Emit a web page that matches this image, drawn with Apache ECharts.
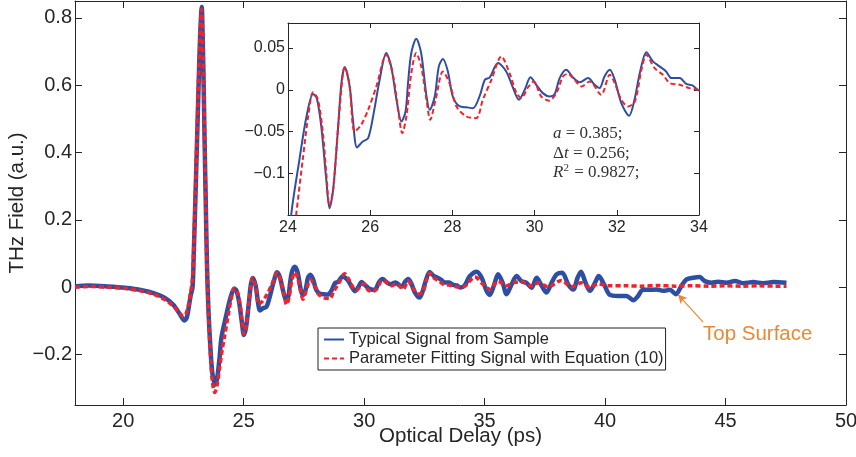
<!DOCTYPE html>
<html>
<head>
<meta charset="utf-8">
<script src="https://cdn.jsdelivr.net/npm/echarts@6/dist/echarts.min.js"></script>
<style>
  html, body { margin: 0; padding: 0; background: #fff; }
  #chart { width: 856px; height: 457px; }
</style>
</head>
<body>
<div id="chart"></div>
<script>
// Measured THz trace: [optical delay (ps), field (a.u.)]
const sampleTrace = [
  [18, 0.002], [18.55, 0.005], [19.38, 0.002], [20.07, -0.002], [20.77, -0.009],
  [21.32, -0.019], [21.73, -0.032], [22.08, -0.052], [22.36, -0.081], [22.54, -0.099],
  [22.64, -0.09], [22.72, -0.06], [22.8, -0.025], [22.88, 0.0], [22.93, 0.1],
  [22.98, 0.22], [23.06, 0.42], [23.13, 0.6], [23.19, 0.74], [23.26, 0.832],
  [23.3, 0.74], [23.34, 0.6], [23.38, 0.43], [23.43, 0.24], [23.48, 0.06],
  [23.54, -0.07], [23.62, -0.18], [23.7, -0.255], [23.81, -0.29], [23.9, -0.27],
  [24.0, -0.21], [24.08, -0.149], [24.28, -0.083], [24.45, -0.032], [24.61, -0.005],
  [24.7, -0.01], [24.81, -0.044], [24.93, -0.107], [25.01, -0.142], [25.1, -0.119],
  [25.22, -0.044], [25.3, 0.008], [25.38, 0.027], [25.5, 0.004], [25.58, -0.036],
  [25.68, -0.069], [25.82, -0.062], [25.95, -0.058], [26.07, -0.032], [26.23, 0.012],
  [26.39, 0.044], [26.51, 0.028], [26.64, -0.012], [26.76, -0.038], [26.86, -0.026],
  [26.92, 0.008], [27.0, 0.044], [27.12, 0.061], [27.24, 0.044], [27.37, -0.008],
  [27.45, -0.024], [27.57, -0.008], [27.67, 0.028], [27.77, 0.037], [27.89, 0.022],
  [28.01, -0.008], [28.18, -0.02], [28.34, -0.021], [28.5, -0.022], [28.66, -0.008],
  [28.79, 0.012], [28.91, 0.015], [29.11, 0.032], [29.31, 0.022], [29.47, 0.003],
  [29.62, -0.012], [29.76, 0.0], [29.9, 0.015], [30.04, 0.006], [30.2, -0.004],
  [30.37, -0.008], [30.49, -0.005], [30.61, 0.014], [30.77, 0.024], [30.93, 0.015],
  [31.1, 0.009], [31.3, 0.014], [31.46, 0.006], [31.58, 0.002], [31.7, 0.016],
  [31.83, 0.024], [31.95, 0.012], [32.11, -0.016], [32.3, -0.031], [32.43, -0.012],
  [32.56, 0.02], [32.72, 0.045], [32.88, 0.034], [33.04, 0.028], [33.2, 0.022],
  [33.33, 0.014], [33.53, 0.014], [33.69, 0.007], [33.85, 0.005], [34.0, -0.001],
  [34.18, 0.006], [34.39, 0.033], [34.67, 0.046], [34.88, 0.028], [35.08, -0.011],
  [35.22, -0.023], [35.4, 0.008], [35.56, 0.038], [35.75, 0.013], [35.91, -0.021],
  [36.12, 0.008], [36.33, 0.033], [36.53, 0.018], [36.74, 0.013], [36.95, -0.002],
  [37.16, 0.028], [37.37, 0.004], [37.57, -0.016], [37.78, 0.013], [37.99, 0.038],
  [38.22, 0.043], [38.47, 0.008], [38.68, -0.007], [38.86, 0.028], [39.0, 0.046],
  [39.19, 0.013], [39.37, -0.011], [39.58, 0.013], [39.74, 0.033], [39.96, 0.008],
  [40.2, -0.023], [40.54, -0.026], [40.89, -0.026], [41.17, -0.039], [41.37, -0.026],
  [41.58, -0.007], [41.86, -0.008], [42.14, -0.007], [42.41, -0.011], [42.69, -0.008],
  [42.94, -0.021], [43.17, 0.004], [43.38, 0.023], [43.66, 0.028], [43.93, 0.03],
  [44.14, 0.018], [44.42, 0.013], [44.69, 0.016], [45.04, 0.013], [45.39, 0.018],
  [45.73, 0.012], [46.15, 0.015], [46.56, 0.012], [46.98, 0.015], [47.53, 0.013]
];

// Fitted trace from Equation (10): [optical delay (ps), field (a.u.)]
const fitTrace = [
  [18, 0.0], [18.6, 0.002], [19.4, 0.0], [20.1, -0.004], [20.8, -0.012],
  [21.3, -0.022], [21.7, -0.036], [22.08, -0.056], [22.36, -0.078], [22.5, -0.087],
  [22.6, -0.08], [22.72, -0.05], [22.8, -0.015], [22.87, 0.02], [22.92, 0.1],
  [22.97, 0.22], [23.05, 0.42], [23.12, 0.6], [23.19, 0.74], [23.25, 0.825],
  [23.3, 0.74], [23.34, 0.6], [23.38, 0.43], [23.43, 0.24], [23.48, 0.05],
  [23.54, -0.08], [23.62, -0.2], [23.7, -0.28], [23.8, -0.313], [23.9, -0.29],
  [24.0, -0.24], [24.1, -0.19], [24.2, -0.149], [24.36, -0.083], [24.49, -0.032],
  [24.61, -0.003], [24.73, -0.012], [24.85, -0.052], [24.93, -0.099], [25.01, -0.139],
  [25.1, -0.119], [25.22, -0.044], [25.34, 0.022], [25.38, 0.027], [25.5, 0.004],
  [25.62, -0.05], [25.78, -0.042], [25.95, -0.024], [26.15, 0.004], [26.39, 0.042],
  [26.56, 0.016], [26.68, -0.024], [26.78, -0.052], [26.88, -0.032], [27.0, 0.02],
  [27.12, 0.044], [27.24, 0.028], [27.37, -0.012], [27.46, -0.036], [27.59, -0.012],
  [27.77, 0.022], [27.93, 0.008], [28.1, -0.02], [28.34, -0.032], [28.58, -0.034],
  [28.74, -0.012], [28.95, 0.012], [29.19, 0.04], [29.39, 0.02], [29.56, -0.004],
  [29.68, -0.01], [29.84, 0.003], [29.98, 0.01], [30.16, -0.008], [30.35, -0.013],
  [30.53, -0.004], [30.69, 0.016], [30.81, 0.019], [30.97, 0.012], [31.14, 0.004],
  [31.34, 0.01], [31.62, -0.006], [31.83, 0.018], [31.95, 0.008], [32.11, -0.012],
  [32.27, -0.02], [32.44, -0.014], [32.6, 0.024], [32.72, 0.042], [32.92, 0.026],
  [33.12, 0.018], [33.29, 0.008], [33.53, 0.006], [33.77, 0.002], [34.0, 0.0],
  [34.18, 0.003], [34.6, 0.03], [34.94, 0.008], [35.22, -0.006], [35.56, 0.018],
  [35.91, 0.004], [36.19, 0.013], [36.53, 0.016], [36.95, 0.004], [37.23, 0.013],
  [37.64, 0.001], [38.19, 0.02], [38.61, 0.001], [39.02, 0.013], [39.37, -0.001],
  [39.71, 0.01], [40.13, 0.004], [40.82, 0.004], [41.5, 0.003], [42.2, 0.005],
  [42.9, 0.003], [43.6, 0.004], [44.3, 0.003], [45.0, 0.004], [45.7, 0.003],
  [46.4, 0.004], [47.1, 0.003], [47.53, 0.003]
];

// Tick values
const mainXTicks = [20, 25, 30, 35, 40, 45, 50];
const mainYTicks = [-0.2, 0, 0.2, 0.4, 0.6, 0.8];
const insetXTicks = [24, 26, 28, 30, 32, 34];
const insetYTicks = [-0.15, -0.1, -0.05, 0, 0.05];
const insetYLabels = [-0.1, -0.05, 0, 0.05];

// Fit parameters shown in the inset
const fitParams = { a: '0.385', dt: '0.256', r2: '0.9827' };

// "Top Surface" arrow: tail near the label, head on the trace
const surfaceArrow = { from: [44.07, -0.104], to: [43.03, -0.022] };

const BLUE = '#2d4fa3';
const RED = '#f0232b';
const ORANGE = '#e88a33';
const AXIS = '#262626';
const SANS = 'Liberation Sans, Arial, sans-serif';
const SERIF = 'Liberation Serif, serif';

const fmt = v => (v < 0 ? '\u2212' : '') + String(Math.abs(v));

function boxAxis(opts) {
  const base = {
    type: 'value',
    gridIndex: opts.grid,
    min: opts.min, max: opts.max,
    position: opts.position,
    nameMoveOverlap: false,
    splitLine: { show: false },
    axisLine: { show: true, onZero: false, lineStyle: { color: AXIS, width: 1 } },
    axisTick: { show: true, inside: true, length: opts.tickLen, customValues: opts.ticks,
                lineStyle: { color: AXIS, width: 1 } },
    axisLabel: opts.labels ? {
      show: true, customValues: opts.labels, formatter: fmt, color: AXIS,
      fontFamily: SANS, fontSize: opts.fontSize, margin: opts.margin
    } : { show: false }
  };
  return Object.assign(base, opts.extra || {});
}

const chart = echarts.init(document.getElementById('chart'), null, { renderer: 'canvas' });

const option = {
  animation: false,
  backgroundColor: '#fff',
  grid: [
    { left: 75, right: 10, top: 1, bottom: 52, containLabel: false, outerBoundsMode: 'none' },
    { left: 288, top: 23, width: 411, height: 192, show: true, backgroundColor: '#fff',
      borderWidth: 0, z: 5, containLabel: false, outerBoundsMode: 'none' }
  ],
  xAxis: [
    boxAxis({ grid: 0, min: 18, max: 50, position: 'bottom', tickLen: 7, ticks: mainXTicks,
      labels: mainXTicks, fontSize: 20, margin: 6,
      extra: { name: 'Optical Delay (ps)', nameLocation: 'middle', nameGap: 21,
               nameTextStyle: { fontFamily: SANS, fontSize: 20.5, color: AXIS } } }),
    boxAxis({ grid: 0, min: 18, max: 50, position: 'top', tickLen: 7, ticks: mainXTicks }),
    boxAxis({ grid: 1, min: 24, max: 34, position: 'bottom', tickLen: 5, ticks: insetXTicks,
      labels: insetXTicks, fontSize: 16, margin: 5, extra: { z: 6 } }),
    boxAxis({ grid: 1, min: 24, max: 34, position: 'top', tickLen: 5, ticks: insetXTicks, extra: { z: 6 } })
  ],
  yAxis: [
    boxAxis({ grid: 0, min: -0.35, max: 0.85, position: 'left', tickLen: 7, ticks: mainYTicks,
      labels: mainYTicks, fontSize: 20, margin: 3,
      extra: { name: 'THz Field (a.u.)', nameLocation: 'middle', nameGap: 47,
               nameTextStyle: { fontFamily: SANS, fontSize: 20.5, color: AXIS } } }),
    boxAxis({ grid: 0, min: -0.35, max: 0.85, position: 'right', tickLen: 7, ticks: mainYTicks }),
    boxAxis({ grid: 1, min: -0.15, max: 0.08, position: 'left', tickLen: 5, ticks: insetYTicks,
      labels: insetYLabels, fontSize: 16, margin: 3, extra: { z: 6 } }),
    boxAxis({ grid: 1, min: -0.15, max: 0.08, position: 'right', tickLen: 5, ticks: insetYTicks, extra: { z: 6 } })
  ],
  legend: {
    left: 318, top: 328,
    orient: 'vertical',
    data: ['Typical Signal from Sample', 'Parameter Fitting Signal with Equation (10)'],
    itemWidth: 20, itemHeight: 12, itemGap: 0,
    padding: [2, 2, 2, 5],
    backgroundColor: '#fff', borderColor: '#222', borderWidth: 1, borderRadius: 0,
    textStyle: { fontFamily: SANS, fontSize: 16.5, lineHeight: 19, color: AXIS },
    lineStyle: { width: 2 },
    itemStyle: { opacity: 0 },
    selectedMode: false
  },
  graphic: [
    {
      type: 'text', left: 703, top: 324, z: 100,
      style: { text: 'Top Surface', fill: ORANGE, font: '20.5px ' + SANS }
    },
    {
      type: 'text', left: 553, top: 124, z: 100,
      style: {
        text: '{i|a} = ' + fitParams.a + ';\n{n|\u0394}{i|t} = ' + fitParams.dt + ';\n{i|R}{s|2} = ' + fitParams.r2 + ';',
        fill: '#333',
        font: '17px ' + SERIF,
        lineHeight: 19.5,
        rich: {
          i: { fontStyle: 'italic', fontFamily: SERIF, fontSize: 17, fill: '#333' },
          n: { fontFamily: SERIF, fontSize: 17, fill: '#333' },
          s: { fontFamily: SERIF, fontSize: 11, fill: '#333', verticalAlign: 'top', padding: [0, 1, 6, 0] }
        }
      }
    }
  ],
  series: [
    {
      name: 'Typical Signal from Sample', type: 'line', xAxisIndex: 0, yAxisIndex: 0,
      data: sampleTrace, symbol: 'none', smooth: 0.3, z: 2,
      lineStyle: { color: BLUE, width: 4.5 }, itemStyle: { color: BLUE },
      markLine: {
        silent: true, symbol: ['none', 'arrow'], symbolSize: [7, 9], animation: false,
        label: { show: false },
        lineStyle: { color: ORANGE, width: 1.2, type: 'solid' },
        data: [[{ coord: surfaceArrow.from }, { coord: surfaceArrow.to }]]
      }
    },
    {
      name: 'Parameter Fitting Signal with Equation (10)', type: 'line', xAxisIndex: 0, yAxisIndex: 0,
      data: fitTrace, symbol: 'none', smooth: 0.3, z: 3,
      lineStyle: { color: RED, width: 3.5, type: [5, 3] }, itemStyle: { color: RED }
    },
    {
      name: 'sample-inset', type: 'line', xAxisIndex: 2, yAxisIndex: 2,
      data: sampleTrace, symbol: 'none', smooth: 0.3, z: 7, clip: true,
      lineStyle: { color: BLUE, width: 2 }
    },
    {
      name: 'fit-inset', type: 'line', xAxisIndex: 2, yAxisIndex: 2,
      data: fitTrace, symbol: 'none', smooth: 0.3, z: 8, clip: true,
      lineStyle: { color: RED, width: 2, type: [5, 3] }
    }
  ]
};

chart.setOption(option);
</script>
</body>
</html>
